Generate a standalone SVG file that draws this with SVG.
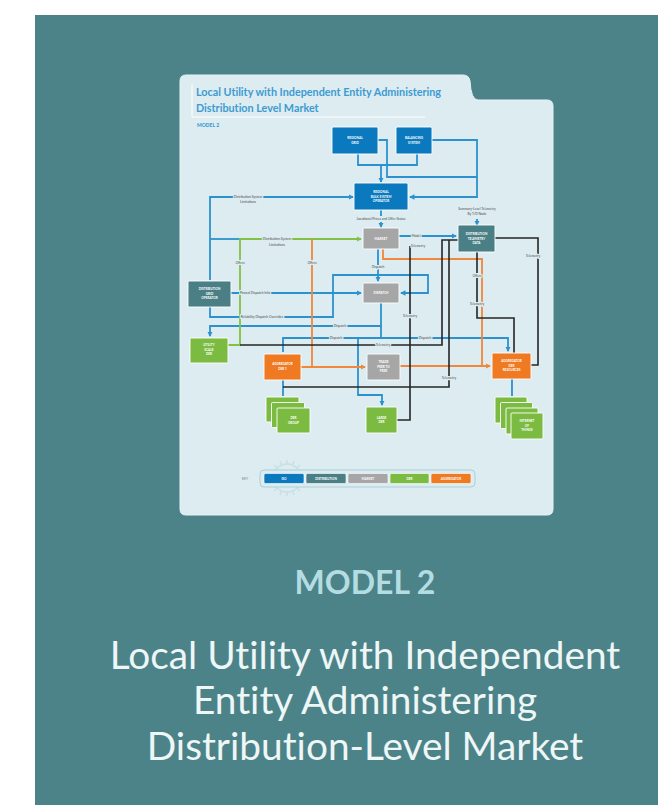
<svg xmlns="http://www.w3.org/2000/svg" width="658" height="805" viewBox="0 0 658 805">
<defs>
<style>
.nt{font-family:Lato,"Liberation Sans",sans-serif;font-size:3.1px;font-weight:700;fill:#ffffff;text-anchor:middle}
.lb{font-family:Lato,"Liberation Sans",sans-serif;font-size:3.3px;fill:#4a4a4a;text-anchor:middle;stroke:#dcecf0;stroke-width:2.2px;paint-order:stroke}
.b{stroke:#2b92cf;stroke-width:1.8;fill:none}
.g{stroke:#82c243;stroke-width:1.8;fill:none}
.o{stroke:#f0873a;stroke-width:1.8;fill:none}
.k{stroke:#262626;stroke-width:1.6;fill:none}
.nb{fill:#0b79bd;stroke:#ffffff;stroke-width:0.9}
.nte{fill:#4b7f86;stroke:#ffffff;stroke-width:0.9}
.ng{fill:#a6a6a6;stroke:#ffffff;stroke-width:0.9}
.ngr{fill:#7cbb41;stroke:#ffffff;stroke-width:0.9}
.no{fill:#f07a22;stroke:#ffffff;stroke-width:0.9}
.cap{font-family:Lato,"Open Sans",sans-serif;text-anchor:middle;font-variant-ligatures:none}
</style>
<marker id="ab" viewBox="0 0 6 6" refX="5" refY="3" markerWidth="3" markerHeight="3" orient="auto"><path d="M0,0 L6,3 L0,6 z" fill="#2b92cf"/></marker>
<marker id="ag" viewBox="0 0 6 6" refX="5" refY="3" markerWidth="3" markerHeight="3" orient="auto"><path d="M0,0 L6,3 L0,6 z" fill="#82c243"/></marker>
<marker id="ao" viewBox="0 0 6 6" refX="5" refY="3" markerWidth="3" markerHeight="3" orient="auto"><path d="M0,0 L6,3 L0,6 z" fill="#f0873a"/></marker>
</defs>

<rect x="35" y="15" width="623" height="790" fill="#4b8389"/>

<!-- thumbnail panel -->
<path d="M186,75 H463 Q469,75 470,81 Q471,100 478,100 H547 Q553,100 553,106 V509 Q553,515 547,515 H186 Q180,515 180,509 V81 Q180,75 186,75 Z" fill="#dcecf0" stroke="#e8f3f5" stroke-width="1"/>
<path d="M192,84 V117 H425" fill="none" stroke="#ffffff" stroke-width="1"/>
<text x="196" y="96" font-family="Lato,'Liberation Sans',sans-serif" font-size="10.8" font-weight="700" fill="#3c9bd2" style="font-variant-ligatures:none">Local Utility with Independent Entity Administering</text>
<text x="196" y="112" font-family="Lato,'Liberation Sans',sans-serif" font-size="10.8" font-weight="700" fill="#3c9bd2" style="font-variant-ligatures:none">Distribution Level Market</text>
<text x="197" y="127" font-family="Lato,'Liberation Sans',sans-serif" font-size="5" font-weight="900" fill="#3c9bd2">MODEL 2</text>

<!-- connectors -->
<g id="connectors">
<!-- blue -->
<path class="b" d="M358,154 V165 H417 V154"/>
<path class="b" d="M381,165 V182" marker-end="url(#ab)"/>
<path class="b" d="M377,140 H387 V177 H477"/>
<path class="b" d="M432,140 H477 V197 H410" marker-end="url(#ab)"/>
<path class="b" d="M477,219 V225" marker-end="url(#ab)"/>
<path class="b" d="M381,210 V216"/>
<path class="b" d="M381,222 V227" marker-end="url(#ab)"/>
<path class="b" d="M210,280 V197 H353" marker-end="url(#ab)"/>
<path class="b" d="M210,239 H240"/>
<path class="b" d="M231,293 H361" marker-end="url(#ab)"/>
<path class="b" d="M210,307 V317 H333 V275 H428 V293 H401" marker-end="url(#ab)"/>
<path class="b" d="M378,249 V281" marker-end="url(#ab)"/>
<path class="b" d="M399,236 H456" marker-end="url(#ab)"/>
<path class="b" d="M381,303 V338"/>
<path class="b" d="M381,326 H210 V336" marker-end="url(#ab)"/>
<path class="b" d="M283,352 V338 H508 V351" marker-end="url(#ab)"/>
<path class="b" d="M358,338 V395 H382 V405" marker-end="url(#ab)"/>
<path class="b" d="M283,380 V396"/>
<path class="b" d="M512,379 V396"/>
<!-- green -->
<path class="g" d="M228,345 H240 V239 H361" marker-end="url(#ag)"/>
<!-- orange -->
<path class="o" d="M312,239 V367"/>
<path class="o" d="M301,367 H365" marker-end="url(#ao)"/>
<path class="o" d="M383,249 V259 H482 V366"/>
<path class="o" d="M400,366 H490" marker-end="url(#ao)"/>
<!-- black -->
<path class="k" d="M240,345 H442 V240 H458"/>
<path class="k" d="M283,387 H449 V240"/>
<path class="k" d="M397,420 H410 V246"/>
<path class="k" d="M495,238 H538 V365 H531"/>
<path class="k" d="M477,252 V318 H514 V353"/>
</g>

<!-- line labels -->
<g id="labels">
<text class="lb" x="248" y="197.5">Distribution System</text>
<text class="lb" x="248" y="202.5">Limitations</text>
<text class="lb" x="381" y="220">Locational Prices and Offer Status</text>
<text class="lb" x="477" y="210">Summary-Level Telemetry</text>
<text class="lb" x="477" y="215">By T/D Node</text>
<text class="lb" x="277" y="239.5">Distribution System</text>
<text class="lb" x="277" y="245.5">Limitations</text>
<text class="lb" x="240" y="264">Offers</text>
<text class="lb" x="312" y="264">Offers</text>
<text class="lb" x="378" y="268">Dispatch</text>
<text class="lb" x="416" y="237">Model</text>
<text class="lb" x="418" y="247">Telemetry</text>
<text class="lb" x="255" y="294">Posted Dispatch Info</text>
<text class="lb" x="262" y="318">Reliability Dispatch Overrides</text>
<text class="lb" x="410" y="317">Telemetry</text>
<text class="lb" x="477" y="277">Offers</text>
<text class="lb" x="477" y="305">Telemetry</text>
<text class="lb" x="533" y="257">Telemetry</text>
<text class="lb" x="340" y="327">Dispatch</text>
<text class="lb" x="336" y="339">Dispatch</text>
<text class="lb" x="425" y="339">Dispatch</text>
<text class="lb" x="383" y="346">Telemetry</text>
<text class="lb" x="449" y="379">Telemetry</text>
</g>

<!-- nodes -->
<g id="regional-grid"><rect class="nb" x="332" y="127" width="46" height="27" rx="1.5"/><text class="nt" x="355" y="139">REGIONAL</text><text class="nt" x="355" y="143.5">GRID</text></g>
<g id="balancing-system"><rect class="nb" x="396" y="127" width="36" height="27" rx="1.5"/><text class="nt" x="414" y="139">BALANCING</text><text class="nt" x="414" y="143.5">SYSTEM</text></g>
<g id="bulk-operator"><rect class="nb" x="354" y="183" width="54" height="27" rx="1.5"/><text class="nt" x="381" y="193">REGIONAL</text><text class="nt" x="381" y="197.5">BULK SYSTEM</text><text class="nt" x="381" y="202">OPERATOR</text></g>
<g id="market"><rect class="ng" x="363" y="228" width="36" height="21" rx="1.5"/><text class="nt" x="381" y="239.5">MARKET</text></g>
<g id="dispatch"><rect class="ng" x="363" y="283" width="36" height="20" rx="1.5"/><text class="nt" x="381" y="294">DISPATCH</text></g>
<g id="telemetry"><rect class="nte" x="458" y="225" width="37" height="27" rx="1.5"/><text class="nt" x="476.5" y="235">DISTRIBUTION</text><text class="nt" x="476.5" y="239.5">TELEMETRY</text><text class="nt" x="476.5" y="244">DATA</text></g>
<g id="dgo"><rect class="nte" x="188" y="281" width="43" height="26" rx="1.5"/><text class="nt" x="209.5" y="290">DISTRIBUTION</text><text class="nt" x="209.5" y="294.5">GRID</text><text class="nt" x="209.5" y="299">OPERATOR</text></g>
<g id="utility-der"><rect class="ngr" x="190" y="338" width="38" height="25" rx="1.5"/><text class="nt" x="209" y="346">UTILITY</text><text class="nt" x="209" y="350.5">SCALE</text><text class="nt" x="209" y="355">DER</text></g>
<g id="aggregator-1"><rect class="no" x="264" y="354" width="37" height="26" rx="1.5"/><text class="nt" x="282.5" y="365">AGGREGATOR</text><text class="nt" x="282.5" y="369.5">DER 1</text></g>
<g id="trade"><rect class="ng" x="367" y="354" width="33" height="26" rx="1.5"/><text class="nt" x="383.5" y="363">TRADE</text><text class="nt" x="383.5" y="367.5">PEER TO</text><text class="nt" x="383.5" y="372">PEER</text></g>
<g id="aggregator-res"><rect class="no" x="492" y="353" width="39" height="26" rx="1.5"/><text class="nt" x="511.5" y="362">AGGREGATOR</text><text class="nt" x="511.5" y="366.5">DER</text><text class="nt" x="511.5" y="371">RESOURCES</text></g>
<g id="der-group"><rect class="ngr" x="266" y="397" width="33" height="25" rx="1"/><rect class="ngr" x="271.5" y="402.5" width="33" height="25" rx="1"/><rect class="ngr" x="277" y="408" width="33" height="25" rx="1"/><text class="nt" x="293.5" y="419">DER</text><text class="nt" x="293.5" y="423.5">GROUP</text></g>
<g id="large-der"><rect class="ngr" x="366" y="407" width="31" height="26" rx="1.5"/><text class="nt" x="381.5" y="418.5">LARGE</text><text class="nt" x="381.5" y="423">DER</text></g>
<g id="iot"><rect class="ngr" x="495" y="397" width="32" height="26" rx="1"/><rect class="ngr" x="500.5" y="402.5" width="32" height="26" rx="1"/><rect class="ngr" x="506" y="408" width="32" height="26" rx="1"/><rect class="ngr" x="511" y="413" width="32" height="26" rx="1"/><text class="nt" x="527" y="422">INTERNET</text><text class="nt" x="527" y="426.5">OF</text><text class="nt" x="527" y="431">THINGS</text></g>

<!-- key -->
<g id="key">
<g stroke="#c4dfe6" stroke-width="1.4" opacity="0.9">
<circle cx="287" cy="478" r="14" fill="none"/>
<path d="M287,460 V464 M287,492 V496 M269,478 H273 M301,478 H305 M274,465 L277,468 M300,465 L297,468 M274,491 L277,488 M300,491 L297,488 M280,461 L281.5,465 M294,461 L292.5,465 M280,495 L281.5,491 M294,495 L292.5,491"/>
</g>
<text x="245" y="480" font-family="Lato,'Liberation Sans',sans-serif" font-size="3.6" fill="#7a8d93" text-anchor="middle">KEY</text>
<rect x="260" y="470" width="215" height="17" rx="4" fill="#dcecf0" stroke="#a9d0da" stroke-width="1"/>
<rect x="264" y="473.5" width="40" height="10" rx="1.5" fill="#0b79bd" stroke="#fff" stroke-width="0.6"/>
<rect x="306" y="473.5" width="40" height="10" rx="1.5" fill="#4b7f86" stroke="#fff" stroke-width="0.6"/>
<rect x="348" y="473.5" width="40" height="10" rx="1.5" fill="#a6a6a6" stroke="#fff" stroke-width="0.6"/>
<rect x="390" y="473.5" width="39" height="10" rx="1.5" fill="#7cbb41" stroke="#fff" stroke-width="0.6"/>
<rect x="431" y="473.5" width="40" height="10" rx="1.5" fill="#f07a22" stroke="#fff" stroke-width="0.6"/>
<text class="nt" x="284" y="479.5">ISO</text>
<text class="nt" x="326" y="479.5">DISTRIBUTION</text>
<text class="nt" x="368" y="479.5">MARKET</text>
<text class="nt" x="409.5" y="479.5">DER</text>
<text class="nt" x="451" y="479.5">AGGREGATOR</text>
</g>

<!-- caption -->
<text class="cap" x="365" y="594" font-size="32" font-weight="700" fill="#b4dde2">MODEL 2</text>
<g class="cap" font-size="38.8" fill="#eef6f6">
<text x="365" y="669">Local Utility with Independent</text>
<text x="365" y="714">Entity Administering</text>
<text x="365" y="760">Distribution-Level Market</text>
</g>
</svg>
